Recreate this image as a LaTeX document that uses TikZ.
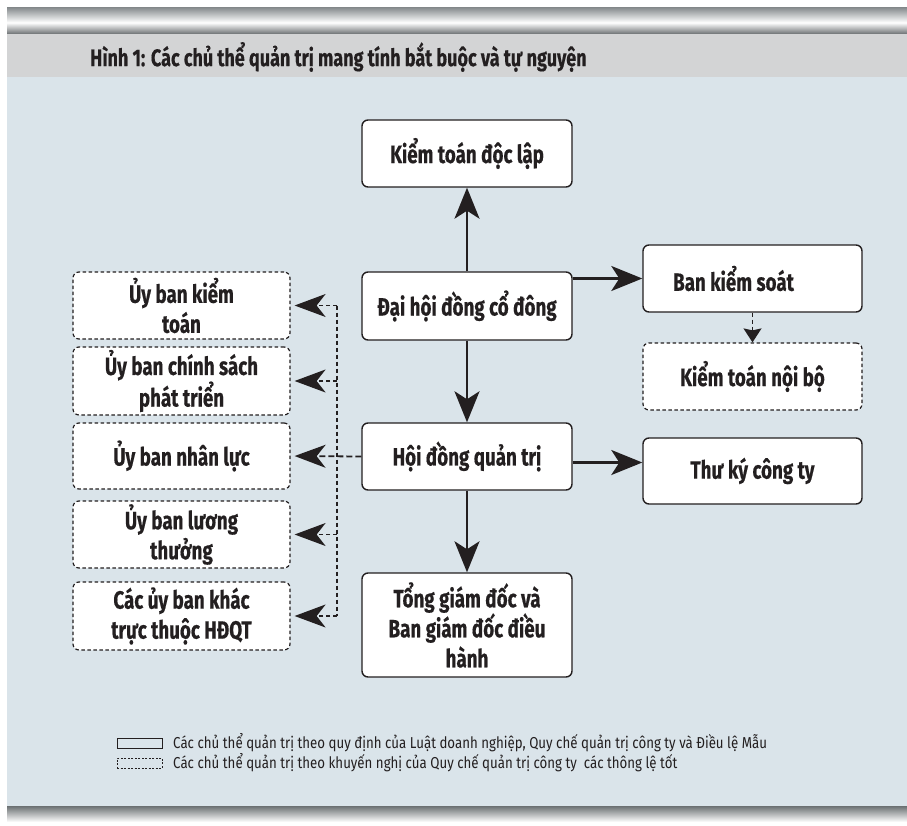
\documentclass[tikz,border=0pt]{standalone}
\usepackage{fontspec}
\setmainfont{Fira Sans}
\newfontfamily\boxfont{Fira Sans}[FakeStretch=0.75, FakeBold=0.5]
\newfontfamily\legfont{Fira Sans}[FakeStretch=0.84]
\usetikzlibrary{arrows.meta,calc}
\definecolor{bgblue}{HTML}{DAE4EA}
\definecolor{band}{HTML}{D3D4D5}
\definecolor{bardark}{HTML}{6B7072}
\definecolor{barmid}{HTML}{8A8F91}
\definecolor{ink}{HTML}{231F20}
\pgfdeclareverticalshading{topbarshade}{100bp}{color(0bp)=(bardark); color(25bp)=(bardark); color(47bp)=(white); color(75bp)=(barmid); color(100bp)=(barmid)}
\pgfdeclareverticalshading{botbarshade}{100bp}{color(0bp)=(white); color(25bp)=(white); color(35bp)=(white); color(75bp)=(bardark); color(100bp)=(bardark)}
\begin{document}
\begin{tikzpicture}[x=1pt,y=-1pt,
  box/.style={draw=ink, line width=1.4pt, fill=white, rounded corners=6pt,
    minimum width=210pt, inner sep=2pt, text=ink,
    font=\boxfont\bfseries\fontsize{25}{30}\selectfont},
  rbox/.style={box, minimum width=219pt},
  lbox/.style={box, minimum width=217pt, line width=1.2pt, dash pattern=on 3.5pt off 2.5pt},
  arr/.style={draw=ink, line width=2.6pt, -{Stealth[length=31pt,width=25pt,inset=8pt]}},
  darr/.style={draw=ink, line width=1.4pt, dash pattern=on 4pt off 3pt,
    -{Stealth[length=31pt,width=23pt,inset=9pt]}, shorten >=4pt},
  smallarr/.style={draw=ink, line width=1.4pt, dash pattern=on 4pt off 3pt,
    -{Stealth[length=14pt,width=18pt,inset=2pt]}},
  legtext/.style={anchor=west, inner sep=0pt, text=ink, font=\legfont\fontsize{15.8}{18}\selectfont}
]
\useasboundingbox (0,0) rectangle (907,826);
\fill[white] (0,0) rectangle (907,826);
\fill[bgblue] (7,77) rectangle (907,806);
\fill[band] (7,33) rectangle (907,77);
\shade[shading=topbarshade] (7,8) rectangle (907,34);
\shade[shading=botbarshade] (7,806) rectangle (907,826);

\node[anchor=west, inner sep=0pt, text=ink, font=\boxfont\bfseries\fontsize{24}{26}\selectfont] (title) at (90,57)
  {Hình 1: Các chủ thể quản trị mang tính bắt buộc và tự nguyện};

% main column
\node[box, minimum height=67pt] (ktdl) at (467,153.5) {Kiểm toán độc lập};
\node[box, minimum height=68pt] (dhd) at (467,306) {Đại hội đồng cổ đông};
\node[box, minimum height=67pt] (hdqt) at (467,456.5) {Hội đồng quản trị};
\node[box, minimum height=104pt, align=center] (tgd) at (467,625) {Tổng giám đốc và\\Ban giám đốc điều\\hành};

% right column
\node[rbox, minimum height=67pt] (bks) at (752.5,278.5) {Ban kiểm soát\kern38pt};
\node[rbox, minimum height=67pt, line width=1.2pt, dash pattern=on 3.5pt off 2.5pt] (ktnb) at (752.5,376.5) {Kiểm toán nội bộ};
\node[rbox, minimum height=66pt] (tk) at (752.5,471) {Thư ký công ty};

% left column
\node[lbox, minimum height=67pt, align=center] (u1) at (181.5,305.5) {Ủy ban kiểm\\toán};
\node[lbox, minimum height=68pt, align=center] (u2) at (181.5,381) {Ủy ban chính sách\\phát triển};
\node[lbox, minimum height=66pt] (u3) at (181.5,456) {Ủy ban nhân lực};
\node[lbox, minimum height=67pt, align=center] (u4) at (181.5,534.5) {Ủy ban lương\\thưởng};
\node[lbox, minimum height=68pt, align=center] (u5) at (181.5,616) {Các ủy ban khác\\trực thuộc HĐQT};

% connectors
\draw[arr] (dhd.north) -- (ktdl.south);
\draw[arr] (dhd.south) -- (hdqt.north);
\draw[arr] (hdqt.south) -- (tgd.north);
\draw[arr] (bks.west -| dhd.east) -- (bks.west);
\draw[arr] ([yshift=-6pt]hdqt.east) -- ([yshift=-6pt]hdqt.east -| tk.west);
\draw[smallarr] (bks.south) -- (ktnb.north);

\coordinate (tx) at (337,0);
\draw[draw=ink, line width=1.4pt, dash pattern=on 4pt off 3pt] (u1.east -| tx) -- (u5.east -| tx);
\draw[darr] (u1.east -| tx) -- (u1.east);
\draw[darr] (u2.east -| tx) -- (u2.east);
\draw[darr, line width=1.8pt, dash pattern=on 6pt off 3pt] (hdqt.west) -- (u3.east);
\draw[darr] (u4.east -| tx) -- (u4.east);
\draw[darr] (u5.east -| tx) -- (u5.east);

% legend
\node[draw=ink, line width=1pt, fill=bgblue, minimum width=45pt, minimum height=10pt, inner sep=0pt] (lg1) at (139.5,743) {};
\node[draw=ink, line width=0.9pt, dash pattern=on 2pt off 1.5pt, minimum width=45pt, minimum height=10pt, inner sep=0pt] (lg2) at (139.5,763) {};
\node[legtext] (lt1) at (173,743) {Các chủ thể quản trị theo quy định của Luật doanh nghiệp, Quy chế quản trị công ty và Điều lệ Mẫu};
\node[legtext] (lt2) at (173,763) {Các chủ thể quản trị theo khuyến nghị của Quy chế quản trị công ty\ \ các thông lệ tốt};
\end{tikzpicture}
\end{document}
